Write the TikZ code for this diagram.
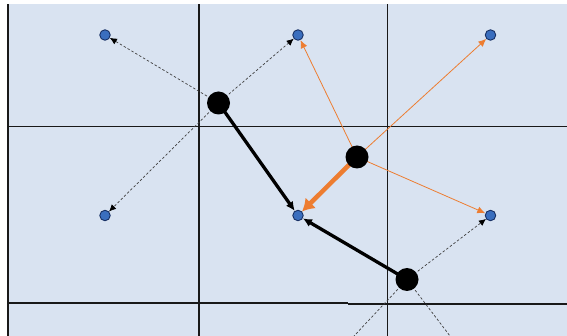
\documentclass[tikz,border=0pt]{standalone}
\usetikzlibrary{arrows.meta}
\definecolor{bgblue}{RGB}{217,227,241}
\definecolor{dotblue}{RGB}{58,110,190}
\definecolor{dotedge}{RGB}{24,48,100}
\definecolor{orng}{RGB}{237,125,49}
\pgfdeclarelayer{bg}
\pgfdeclarelayer{edges}
\pgfsetlayers{bg,edges,main}
\tikzset{
  grid/.style={line width=1.6pt, black!90},
  target/.style={circle, draw=dotedge, line width=0.9pt, fill=dotblue, minimum size=10.5pt, inner sep=0pt},
  agent/.style={circle, fill=black, minimum size=23pt, inner sep=0pt},
  dsh/.style={line width=0.7pt, black!75, dash pattern=on 2.5pt off 2pt, -{Latex[length=7pt,width=6.5pt,black]}},
  dshfree/.style={line width=0.7pt, black!75, dash pattern=on 2.5pt off 2pt},
  heavy/.style={line width=3.3pt, -{Latex[length=9pt,width=8.5pt]}},
  othin/.style={line width=0.8pt, orng, -{Latex[length=8pt,width=7pt]}},
  othick/.style={line width=4.5pt, orng, -{Latex[length=12pt,width=15pt]}}
}
\begin{document}
\begin{tikzpicture}[x=1pt,y=-1pt]
\useasboundingbox (0,0) rectangle (567,336);
\begin{pgfonlayer}{bg}
\fill[white] (0,0) rectangle (567,336);
\fill[bgblue] (8,4.5) rectangle (567,336);
\draw[grid] (8,4.5) -- (8,336);
\draw[grid] (199,4.5) -- (199,336);
\draw[grid] (387.5,4.5) -- (387.5,336);
\draw[grid] (8,126.5) -- (567,126.5);
\draw[grid] (8,303.3) -- (348,303.3);
\draw[grid] (348,304.3) -- (567,304.3);
\end{pgfonlayer}
% targets
\node[target] (t1) at (105,35) {};
\node[target] (t2) at (298,35) {};
\node[target] (t3) at (490.5,35) {};
\node[target] (t4) at (105,215.5) {};
\node[target] (t5) at (298,215.5) {};
\node[target] (t6) at (490.5,215.5) {};
% agents
\node[agent] (a1) at (218.5,103) {};
\node[agent] (a2) at (357,157) {};
\node[agent] (a3) at (407,279.5) {};
\coordinate (e1) at (354,336);
\coordinate (e2) at (450,336);
\begin{pgfonlayer}{edges}
\draw[dsh] (a1.center) -- (t1);
\draw[dsh] (a1.center) -- (t2);
\draw[dsh] (a1.center) -- (t4);
\draw[heavy] (a1.center) -- (t5);
\draw[othin] (a2.center) -- (t2);
\draw[othin] (a2.center) -- (t3);
\draw[othin] (a2.center) -- (t6);
\draw[othick] (a2.center) -- (t5);
\draw[heavy] (a3.center) -- (t5);
\draw[dsh] (a3.center) -- (t6);
\draw[dshfree] (a3.center) -- (e1);
\draw[dshfree] (a3.center) -- (e2);
\end{pgfonlayer}
\end{tikzpicture}
\end{document}
